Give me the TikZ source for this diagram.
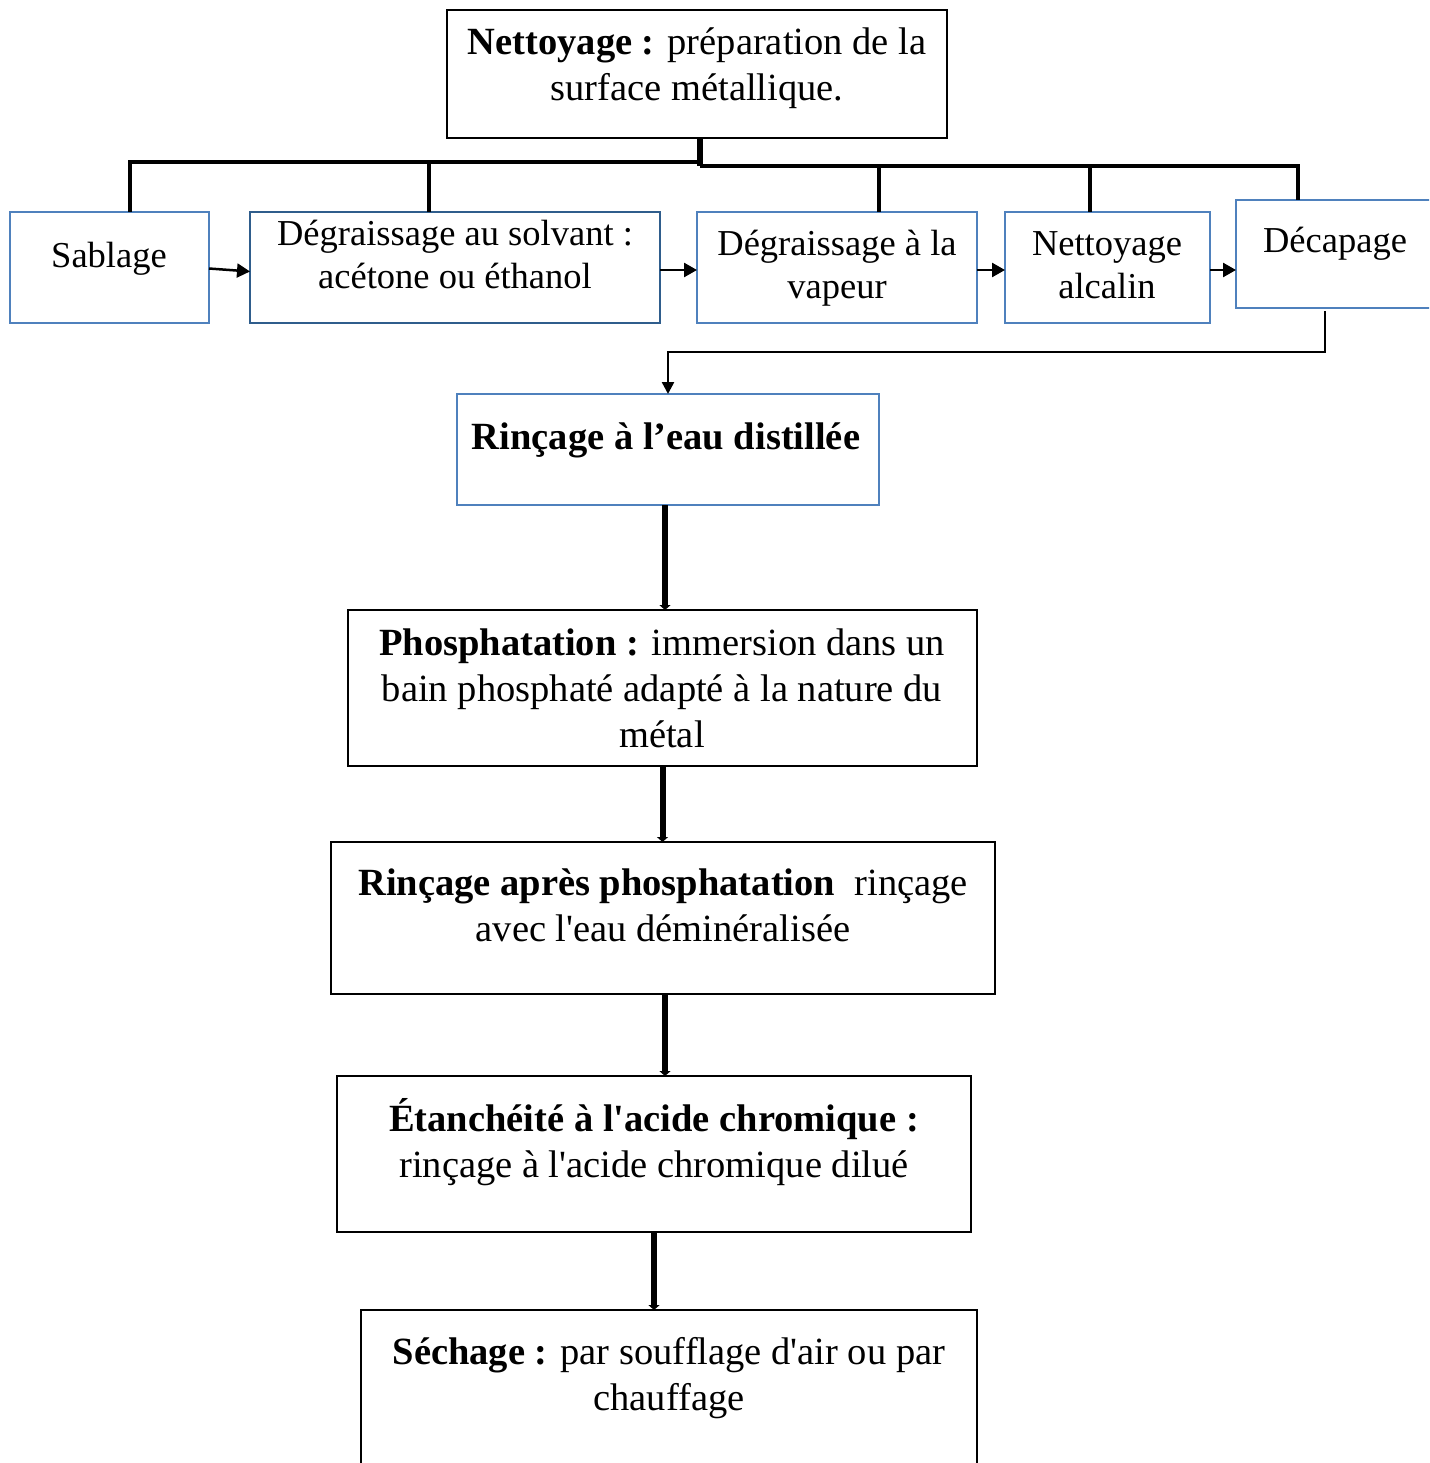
\documentclass[tikz,border=0pt]{standalone}
\usepackage{fontspec}
\setmainfont{Liberation Serif}
\usetikzlibrary{arrows.meta}
\definecolor{bbord}{HTML}{4F81BD}
\definecolor{bdark}{HTML}{2F5D8C}
\begin{document}
\begin{tikzpicture}[x=1pt,y=-1pt,
  bluebox/.style={draw=bbord,line width=2.5pt,inner sep=0pt,outer sep=0pt},
  blackbox/.style={draw=black,line width=2.5pt,inner sep=0pt,outer sep=0pt},
  maintxt/.style={align=center,inner sep=0pt,anchor=base,font=\fontsize{38.5}{46}\selectfont},
  rowtxt/.style={align=center,inner sep=0pt,anchor=base,font=\fontsize{36.5}{43}\selectfont},
  bus/.style={line width=4pt},
  stem/.style={line width=6pt},
  rowarrow/.style={line width=2.5pt,-{Triangle[length=13pt,width=14pt]}},
  bentarrow/.style={line width=2.5pt,-{Triangle[length=12pt,width=12pt]}},
  flowarrow/.style={line width=6pt,-{Triangle[length=5pt,width=11pt]}}
]
\useasboundingbox (0,0) rectangle (1429,1463);
\clip (0,0) rectangle (1429,1463);

% boxes
\node[blackbox,minimum width=500pt,minimum height=128pt] (top) at (697,74) {};
\node[bluebox,minimum width=199pt,minimum height=111pt] (sab) at (109.5,267.5) {};
\node[bluebox,draw=bdark,minimum width=410pt,minimum height=111pt] (deg) at (455,267.5) {};
\node[bluebox,minimum width=280pt,minimum height=111pt] (vap) at (837,267.5) {};
\node[bluebox,minimum width=205pt,minimum height=111pt] (alc) at (1107.5,267.5) {};
\node[bluebox,minimum width=210pt,minimum height=108pt] (dec) at (1341,254) {};
\node[bluebox,minimum width=422pt,minimum height=111pt] (rin) at (668,449.5) {};
\node[blackbox,minimum width=629pt,minimum height=156pt] (phos) at (662.5,688) {};
\node[blackbox,minimum width=664pt,minimum height=152pt] (rap) at (663,918) {};
\node[blackbox,minimum width=634pt,minimum height=156pt] (etan) at (654,1154) {};
\node[blackbox,minimum width=616pt,minimum height=170pt] (sech) at (669,1395) {};

% texts (base = baseline of the last line)
\node[maintxt] (ttop) at (697,101) {\textbf{Nettoyage :} préparation de la\\surface métallique.};
\node[rowtxt] (tsab) at (109,267) {Sablage};
\node[rowtxt] (tdeg) at (455,288) {Dégraissage au solvant :\\acétone ou éthanol};
\node[rowtxt] (tvap) at (837,298) {Dégraissage à la\\vapeur};
\node[rowtxt] (talc) at (1107,298) {Nettoyage\\alcalin};
\node[rowtxt] (tdec) at (1335,253) {Décapage};
\node[maintxt] (trin) at (666,449) {\textbf{Rinçage à l’eau distillée}};
\node[maintxt] (tphos) at (662,747) {\textbf{Phosphatation :} immersion dans un\\bain phosphaté adapté à la nature du\\métal};
\node[maintxt] (trap) at (663,941) {\textbf{Rinçage après phosphatation}\ \ rinçage\\avec l\textquotesingle eau déminéralisée};
\node[maintxt] (tetan) at (654,1177) {\textbf{Étanchéité à l\textquotesingle acide chromique :}\\rinçage à l\textquotesingle acide chromique dilué};
\node[maintxt] (tsech) at (669,1410) {\textbf{Séchage :} par soufflage d\textquotesingle air ou par\\chauffage};

% bus from the top box
\coordinate (jL) at (700,162);
\coordinate (jR) at (700,166);
\coordinate (sabT) at ([xshift=20.5pt]sab.north);
\coordinate (degT) at ([xshift=-26pt]deg.north);
\coordinate (vapT) at ([xshift=42pt]vap.north);
\coordinate (alcT) at ([xshift=-17.5pt]alc.north);
\coordinate (decT) at ([xshift=-43pt]dec.north);
\draw[stem] ([xshift=3pt]top.south) -- (jR);
\draw[bus] (sabT) |- (jL);
\draw[bus] (degT) -- (degT |- jL);
\draw[bus] (jR) -| (decT);
\draw[bus] (vapT) -- (vapT |- jR);
\draw[bus] (alcT) -- (alcT |- jR);

% row arrows
\draw[rowarrow] ([yshift=-1pt]sab.east) -- ([yshift=-4pt]deg.west);
\draw[rowarrow] ([yshift=-2.5pt]deg.east) -- ([yshift=-2.5pt]vap.west);
\draw[rowarrow] ([yshift=-2.5pt]vap.east) -- ([yshift=-2.5pt]alc.west);
\draw[rowarrow] ([yshift=-2.5pt]alc.east) -- ([yshift=-2.5pt]alc.east -| dec.west);

% from Décapage down to rinçage
\coordinate (decB) at ([xshift=-16pt,yshift=-3pt]dec.south);
\draw[bentarrow] (decB) -- ++(0,41) -| (rin.north);

% vertical flow
\draw[flowarrow] ([xshift=-3pt]rin.south) -- ([xshift=-3pt]rin.south |- phos.north);
\draw[flowarrow] (phos.south) -- (phos.south |- rap.north);
\draw[flowarrow] ([xshift=2pt]rap.south) -- ([xshift=2pt]rap.south |- etan.north);
\draw[flowarrow] (etan.south) -- (etan.south |- sech.north);
\end{tikzpicture}
\end{document}
